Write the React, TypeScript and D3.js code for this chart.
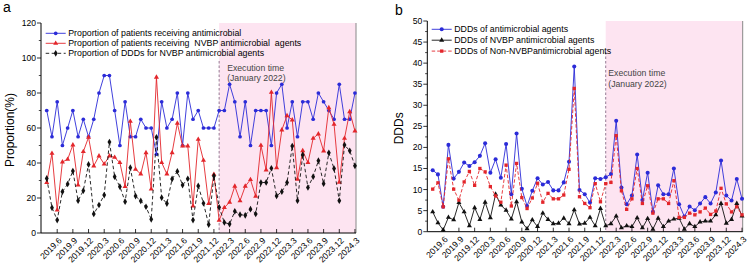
import React from "react";
import * as d3 from "d3";

const FONT = "Arial, 'Liberation Sans', sans-serif";

// one entry per month, April 2019 to March 2024
const months = [
  "2019.4", "2019.5", "2019.6", "2019.7", "2019.8", "2019.9", "2019.10", "2019.11", "2019.12",
  "2020.1", "2020.2", "2020.3", "2020.4", "2020.5", "2020.6", "2020.7", "2020.8", "2020.9", "2020.10", "2020.11", "2020.12",
  "2021.1", "2021.2", "2021.3", "2021.4", "2021.5", "2021.6", "2021.7", "2021.8", "2021.9", "2021.10", "2021.11", "2021.12",
  "2022.1", "2022.2", "2022.3", "2022.4", "2022.5", "2022.6", "2022.7", "2022.8", "2022.9", "2022.10", "2022.11", "2022.12",
  "2023.1", "2023.2", "2023.3", "2023.4", "2023.5", "2023.6", "2023.7", "2023.8", "2023.9", "2023.10", "2023.11", "2023.12",
  "2024.1", "2024.2", "2024.3",
];

const tickLabels = [
  "2019.6", "2019.9", "2019.12", "2020.3", "2020.6", "2020.9", "2020.12", "2021.3", "2021.6", "2021.9",
  "2021.12", "2022.3", "2022.6", "2022.9", "2022.12", "2023.3", "2023.6", "2023.9", "2023.12", "2024.3",
];

const executionMonth = "2022.1";

// panel a (%)
const patientsAntimicrobial = [
  70, 55, 75, 50, 60, 70, 55, 65, 55, 65, 80, 90, 90, 70, 50, 75, 55, 55, 65, 60,
  60, 45, 75, 60, 65, 80, 50, 80, 65, 70, 60, 60, 60, 70, 70, 85, 75, 55, 75, 50,
  70, 70, 70, 50, 80, 85, 60, 75, 55, 75, 75, 65, 80, 75, 70, 65, 85, 65, 65, 80,
];
const patientsNvbp = [
  28.8, 45.5, 13.1, 40.6, 42.1, 50.3, 27.4, 46.5, 54.7, 38.3, 44, 39.4, 44, 43.2, 40.2, 26.5, 63.8, 36.4, 33.7, 45.9,
  25.1, 89, 40.2, 33.7, 45.9, 62.7, 49.7, 49.7, 15.4, 53.5, 41.5, 16.8, 33.5, 7.2, 14.5, 17.6, 26.7, 18.4, 26.7, 30.5,
  21, 50.1, 36, 80.4, 37.3, 58.9, 67, 64.6, 30.7, 47, 40.2, 54.1, 56.6, 46.9, 71.6, 62.1, 29, 54.1, 69.3, 58.3,
];
const dddsNvbpShare = [
  31.2, 14.5, 7.4, 23.6, 28, 35.4, 18.5, 24.2, 39.2, 10.9, 16, 21.7, 52, 32.2, 26.5, 17.9, 37.3, 21.1, 18.3, 15,
  7.8, 54.7, 20.2, 16.8, 30.9, 35.2, 27.4, 31, 7.4, 26.9, 17, 4.8, 32.6, 14.7, 6, 5.1, 12.4, 10.5, 10.1, 13.6,
  10.9, 28.8, 28.9, 37, 21.2, 23.6, 28.8, 49.7, 18.5, 44.6, 26, 32.2, 41.3, 28.2, 45.8, 36.8, 18.5, 50.3, 47, 38.4,
];

// panel b (DDDs)
const dddsAll = [
  14.6, 13.6, 5.9, 20.6, 12.6, 14.2, 16.4, 15.6, 16.5, 18, 21, 14, 17.2, 12.8, 20.8, 8.9, 23.3, 10.2, 6.1, 9.7,
  12.7, 11.2, 11.8, 9.8, 9.8, 11.7, 16.6, 39.2, 9.9, 8.9, 6.9, 12.7, 12.5, 12.9, 13.7, 26.3, 10.5, 6.5, 8.6, 18.3,
  7.5, 14, 4.7, 11, 8.9, 8.9, 15, 6.5, 3.6, 6, 5.1, 6.7, 8.2, 6.7, 9.3, 16.9, 8.6, 7.4, 12.5, 7.8,
];
const dddsNvbp = [
  4.7, 2.1, 0.4, 3.4, 2.8, 6.9, 4.7, 1.4, 5.7, 2.9, 7, 3.3, 8.9, 6.3, 5.1, 3, 7.1, 2.3, 0.7, 2.8,
  1.2, 4.4, 2.9, 1.9, 2, 3.2, 1.9, 5.2, 1.8, 2, 3.4, 1.4, 5.5, 1.4, 1.9, 3.7, 0.9, 1.4, 1.2, 3.3,
  0.9, 3.1, 0.6, 3.2, 1.2, 2.5, 3, 3.2, 0.6, 1.9, 1.2, 2.3, 2.5, 2.5, 4, 6.7, 2, 2.9, 6.7, 3.7,
];
const dddsNonNvbp = [
  10.1, 11.6, 5.9, 17.3, 10.1, 7.5, 11.8, 14.3, 11, 15, 14.2, 10.7, 8.5, 7, 15.8, 6.1, 16.2, 8.1, 5.5, 8,
  11.5, 7, 9.1, 7.8, 7.8, 8.7, 14.8, 34, 8.3, 6.7, 5.7, 11.4, 7.1, 11.4, 11.7, 22.8, 9.7, 5.3, 7.8, 15,
  6.7, 10.9, 4.4, 7.8, 7.8, 6.7, 12.1, 3.4, 3.4, 4.4, 4, 4.7, 5.6, 4.1, 4.9, 10.3, 6.6, 4.7, 5.9, 4,
];

const BLUE = "#2b2bd8";
const RED = "#e3262b";
const BLACK = "#111";
const PINK = "#fde4f1";

type Series = {
  label: string;
  values: number[];
  color: string;
  dash?: string;
  symbol: d3.SymbolType;
  size: number;
};

type PanelCfg = {
  tag: string;
  tagX: number;
  tagY: number;
  left: number;
  right: number;
  top: number;
  bottom: number;
  xDomain: [number, number];
  yMax: number;
  yStep: number;
  yMinor: number;
  yTitle: string;
  yTitleX: number;
  legendX: number;
  legendY: number;
  legendGap: number;
  noteDx: number;
  noteY: number;
  dividerTop: number;
  series: Series[];
};

const panels: PanelCfg[] = [
  {
    tag: "a", tagX: 3, tagY: 12,
    left: 41, right: 356, top: 23, bottom: 233,
    xDomain: [-1.1, 59.2],
    yMax: 120, yStep: 20, yMinor: 10,
    yTitle: "Proportion(%)", yTitleX: 14,
    legendX: 45.7, legendY: 33.3, legendGap: 10,
    noteDx: 8, noteY: 67.7, dividerTop: 61,
    series: [
      { label: "Proportion of patients receiving antimicrobial", values: patientsAntimicrobial, color: BLUE, symbol: d3.symbolCircle, size: 11 },
      { label: "Proportion of patients receiving  NVBP antimicrobial  agents", values: patientsNvbp, color: RED, symbol: d3.symbolTriangle, size: 11 },
      { label: "Proportion of DDDs for NVBP antimicrobial agents", values: dddsNvbpShare, color: BLACK, dash: "3.5,2.5", symbol: d3.symbolDiamond, size: 13 },
    ],
  },
  {
    tag: "b", tagX: 395, tagY: 15,
    left: 427.3, right: 742.7, top: 21, bottom: 231.7,
    xDomain: [-1.03, 59.13],
    yMax: 50, yStep: 5, yMinor: 2.5,
    yTitle: "DDDs", yTitleX: 403,
    legendX: 431.7, legendY: 29.3, legendGap: 10.9,
    noteDx: 2.6, noteY: 73.3, dividerTop: 52,
    series: [
      { label: "DDDs of antimicrobial agents", values: dddsAll, color: BLUE, symbol: d3.symbolCircle, size: 13 },
      { label: "DDDs of NVBP antimicrobial agents", values: dddsNvbp, color: BLACK, symbol: d3.symbolTriangle, size: 11 },
      { label: "DDDs of Non-NVBPantimicrobial agents", values: dddsNonNvbp, color: RED, dash: "3.5,2", symbol: d3.symbolSquare, size: 11 },
    ],
  },
];

function Panel({ cfg }: { cfg: PanelCfg }) {
  const x = d3.scaleLinear().domain(cfg.xDomain).range([cfg.left, cfg.right]);
  const y = d3.scaleLinear().domain([0, cfg.yMax]).range([cfg.bottom, cfg.top]);
  const startX = x(months.indexOf(executionMonth));
  const majors = d3.range(0, cfg.yMax + 0.001, cfg.yStep);
  const minors = d3.range(cfg.yMinor, cfg.yMax, cfg.yStep);
  const line = d3
    .line<number>()
    .x((_, i) => x(i))
    .y((d) => y(d));

  return (
    <g fontFamily={FONT}>
      <text x={cfg.tagX} y={cfg.tagY} fontSize={14}>{cfg.tag}</text>

      {/* intervention period */}
      <rect x={startX} y={cfg.top} width={cfg.right - startX} height={cfg.bottom - cfg.top} fill={PINK} />
      <line x1={cfg.right} x2={cfg.right} y1={cfg.top} y2={cfg.bottom} stroke="#888" strokeWidth={1} />
      <line x1={startX} x2={startX} y1={cfg.dividerTop} y2={cfg.bottom} stroke="#7a5c7a" strokeWidth={0.8} strokeDasharray="2.5,2" />
      <text x={startX + cfg.noteDx} y={cfg.noteY} fontSize={8.7} fill="#444" dominantBaseline="central">Execution time</text>
      <text x={startX + cfg.noteDx} y={cfg.noteY + 10.5} fontSize={8.7} fill="#444" dominantBaseline="central">(January 2022)</text>

      {/* series */}
      {cfg.series.map((s) => (
        <g key={s.label}>
          <path d={line(s.values) ?? ""} fill="none" stroke={s.color} strokeWidth={0.9} strokeDasharray={s.dash} />
          {s.values.map((v, i) => (
            <path key={i} d={d3.symbol(s.symbol, s.size)() ?? ""} transform={`translate(${x(i)},${y(v)})`} fill={s.color} />
          ))}
        </g>
      ))}

      {/* axes */}
      <line x1={cfg.left} x2={cfg.left} y1={cfg.top} y2={cfg.bottom} stroke="#000" strokeWidth={1} />
      <line x1={cfg.left} x2={cfg.right} y1={cfg.bottom} y2={cfg.bottom} stroke="#000" strokeWidth={1} />
      {majors.map((t) => (
        <g key={`y${t}`}>
          <line x1={cfg.left - 4} x2={cfg.left} y1={y(t)} y2={y(t)} stroke="#000" strokeWidth={0.8} />
          <text x={cfg.left - 5} y={y(t)} fontSize={8.6} textAnchor="end" dominantBaseline="central">{t}</text>
        </g>
      ))}
      {minors.map((t) => (
        <line key={`m${t}`} x1={cfg.left - 2.2} x2={cfg.left} y1={y(t)} y2={y(t)} stroke="#000" strokeWidth={0.7} />
      ))}
      {tickLabels.map((t) => {
        const tx = x(months.indexOf(t));
        return (
          <g key={t}>
            <line x1={tx} x2={tx} y1={cfg.bottom - 4} y2={cfg.bottom} stroke="#000" strokeWidth={0.8} />
            <text transform={`translate(${tx + 3},${cfg.bottom + 6}) rotate(-45)`} fontSize={8.6} textAnchor="end" dominantBaseline="central">{t}</text>
          </g>
        );
      })}
      <text
        transform={`translate(${cfg.yTitleX},${(cfg.top + cfg.bottom) / 2 + 2}) rotate(-90)`}
        fontSize={12}
        textAnchor="middle"
      >
        {cfg.yTitle}
      </text>

      {/* legend */}
      {cfg.series.map((s, i) => {
        const ly = cfg.legendY + i * cfg.legendGap;
        return (
          <g key={`lg${i}`}>
            <line x1={cfg.legendX} x2={cfg.legendX + 20} y1={ly} y2={ly} stroke={s.color} strokeWidth={0.9} strokeDasharray={s.dash} />
            <path d={d3.symbol(s.symbol, s.size)() ?? ""} transform={`translate(${cfg.legendX + 10},${ly})`} fill={s.color} />
            <text x={cfg.legendX + 22.5} y={ly} fontSize={8.8} dominantBaseline="central" style={{ whiteSpace: "pre" }}>
              {s.label}
            </text>
          </g>
        );
      })}
    </g>
  );
}

export default function App() {
  return (
    <svg
      width={750}
      height={268}
      viewBox="0 0 750 268"
      style={{ position: "absolute", left: 0, top: 0, background: "#fff" }}
    >
      {panels.map((p) => (
        <Panel key={p.tag} cfg={p} />
      ))}
    </svg>
  );
}
